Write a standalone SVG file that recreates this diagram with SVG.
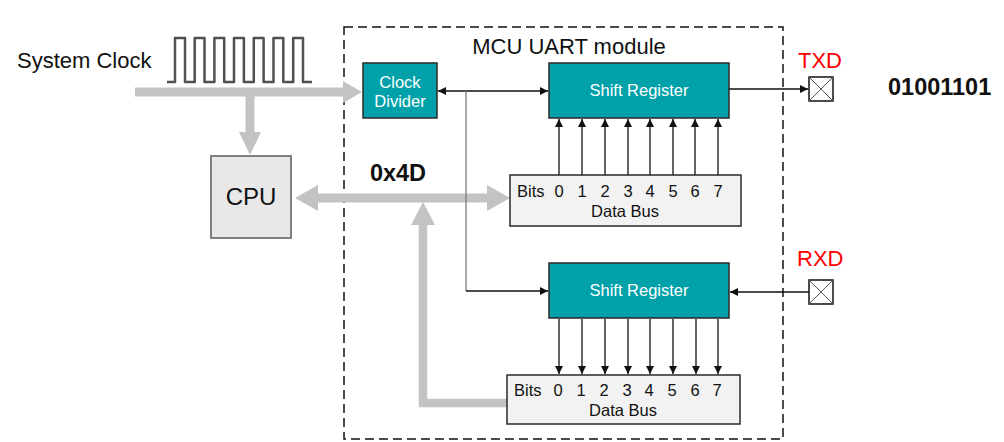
<svg xmlns="http://www.w3.org/2000/svg" width="1004" height="442" viewBox="0 0 1004 442">
<style>
  text { font-family: "Liberation Sans", Arial, sans-serif; }
  .teal { fill: #00a1a9; stroke: #2a2a2a; stroke-width: 1.5; }
  .wt { fill: #ffffff; font-size: 16.5px; text-anchor: middle; }
  .bus { fill: #f2f2f2; stroke: #2a2a2a; stroke-width: 1.5; }
  .bt { fill: #111; font-size: 16.5px; }
  .dg { text-anchor: middle; }
  .thin { stroke: #111; stroke-width: 1.3; fill: none; }
  .gbus { stroke: #c3c3c3; fill: none; }
  .garr { fill: #c3c3c3; }
  .pin { fill: #fff; stroke: #111; stroke-width: 1.5; }
  .red { fill: #ff0000; font-size: 22px; }
</style>
<defs>
  <marker id="ah" viewBox="0 0 10 10" refX="10" refY="5" markerWidth="8" markerHeight="8" markerUnits="userSpaceOnUse" orient="auto-start-reverse">
    <path d="M0,0 L10,5 L0,10 z" fill="#111"/>
  </marker>
</defs>
<rect width="1004" height="442" fill="#ffffff"/>

<g id="uart-module">
  <rect x="344" y="27" width="439" height="412" fill="none" stroke="#111" stroke-width="1.5" stroke-dasharray="9,5"/>
  <text x="569" y="54" font-size="22" text-anchor="middle" fill="#111">MCU UART module</text>
</g>

<g id="system-clock">
  <text x="17" y="68" font-size="22" fill="#111">System Clock</text>
  <polyline fill="none" stroke="#505050" stroke-width="2.5" stroke-linejoin="round" points="167,82 175,82 175,38 185,38 185,82 194.7,82 194.7,38 204.5,38 204.5,82 214.4,82 214.4,38 224.2,38 224.2,82 234,82 234,38 243.9,38 243.9,82 253.8,82 253.8,38 263.6,38 263.6,82 273.5,82 273.5,38 283.3,38 283.3,82 293.2,82 293.2,38 303,38 303,82 312,82"/>
</g>

<g id="connectors">
  <!-- clock bus -->
  <line class="gbus" x1="135" y1="92" x2="344" y2="92" stroke-width="9"/>
  <polygon class="garr" points="343,81 362,92 343,103"/>
  <line class="gbus" x1="250" y1="92" x2="250" y2="133" stroke-width="9"/>
  <polygon class="garr" points="239,132 261,132 250,155"/>
  <!-- CPU <-> data bus -->
  <line class="gbus" x1="317" y1="198" x2="488" y2="198" stroke-width="9"/>
  <polygon class="garr" points="318,185 295,198 318,211"/>
  <polygon class="garr" points="487,185 510,198 487,211"/>
  <!-- RX data bus up -->
  <polyline class="gbus" points="507,403 423,403 423,224" stroke-width="8.5"/>
  <polygon class="garr" points="411,225 423,202 435,225"/>
  <!-- clock divider connections -->
  <line class="thin" x1="438" y1="91" x2="548" y2="91" marker-start="url(#ah)" marker-end="url(#ah)"/>
  <line x1="466" y1="91" x2="466" y2="291" stroke="#7a7a7a" stroke-width="1.3"/>
  <line class="thin" x1="466" y1="291" x2="548" y2="291" marker-end="url(#ah)"/>
  <!-- TX / RX -->
  <line class="thin" x1="729" y1="89" x2="808" y2="89" marker-end="url(#ah)"/>
  <line class="thin" x1="809" y1="292" x2="730" y2="292" marker-end="url(#ah)"/>
  <!-- top bits up -->
  <g class="thin" marker-end="url(#ah)">
    <line x1="559" y1="175" x2="559" y2="119"/>
    <line x1="582" y1="175" x2="582" y2="119"/>
    <line x1="605" y1="175" x2="605" y2="119"/>
    <line x1="628" y1="175" x2="628" y2="119"/>
    <line x1="650" y1="175" x2="650" y2="119"/>
    <line x1="673" y1="175" x2="673" y2="119"/>
    <line x1="695" y1="175" x2="695" y2="119"/>
    <line x1="718" y1="175" x2="718" y2="119"/>
  </g>
  <!-- bottom bits down -->
  <g class="thin" marker-end="url(#ah)">
    <line x1="559" y1="319" x2="559" y2="374"/>
    <line x1="582" y1="319" x2="582" y2="374"/>
    <line x1="605" y1="319" x2="605" y2="374"/>
    <line x1="628" y1="319" x2="628" y2="374"/>
    <line x1="650" y1="319" x2="650" y2="374"/>
    <line x1="673" y1="319" x2="673" y2="374"/>
    <line x1="696" y1="319" x2="696" y2="374"/>
    <line x1="718" y1="319" x2="718" y2="374"/>
  </g>
</g>

<g id="cpu">
  <rect x="211" y="156" width="80" height="82" fill="#e8e8e8" stroke="#808080" stroke-width="2"/>
  <text x="251" y="205" font-size="24" text-anchor="middle" fill="#111">CPU</text>
</g>

<g id="label-0x4D">
  <text x="398" y="181" font-size="23.5" font-weight="bold" text-anchor="middle" fill="#111">0x4D</text>
</g>

<g id="clock-divider">
  <rect class="teal" x="363" y="63" width="74" height="55"/>
  <text class="wt" x="400" y="88">Clock</text>
  <text class="wt" x="400" y="107">Divider</text>
</g>

<g id="tx-shift-register">
  <rect class="teal" x="549" y="63" width="180" height="55"/>
  <text class="wt" x="639" y="96">Shift Register</text>
</g>

<g id="rx-shift-register">
  <rect class="teal" x="549" y="263" width="180" height="55"/>
  <text class="wt" x="639" y="296">Shift Register</text>
</g>

<g id="tx-data-bus">
  <rect class="bus" x="510" y="175" width="231" height="51"/>
  <text class="bt" x="517" y="197">Bits</text>
  <g class="bt dg">
    <text x="559" y="197">0</text><text x="582" y="197">1</text><text x="605" y="197">2</text><text x="628" y="197">3</text>
    <text x="650" y="197">4</text><text x="673" y="197">5</text><text x="695" y="197">6</text><text x="718" y="197">7</text>
  </g>
  <text class="bt dg" x="625" y="217">Data Bus</text>
</g>

<g id="rx-data-bus">
  <rect class="bus" x="507" y="375" width="233" height="49"/>
  <text class="bt" x="514" y="396">Bits</text>
  <g class="bt dg">
    <text x="558" y="396">0</text><text x="581" y="396">1</text><text x="604" y="396">2</text><text x="627" y="396">3</text>
    <text x="649" y="396">4</text><text x="672" y="396">5</text><text x="695" y="396">6</text><text x="717" y="396">7</text>
  </g>
  <text class="bt dg" x="623" y="416">Data Bus</text>
</g>

<g id="txd-pin">
  <text class="red" x="798" y="68">TXD</text>
  <rect class="pin" x="809" y="77" width="24" height="24"/>
  <path d="M809,77 L833,101 M833,77 L809,101" stroke="#555" stroke-width="1"/>
</g>

<g id="rxd-pin">
  <text class="red" x="797" y="266">RXD</text>
  <rect class="pin" x="809" y="280" width="24" height="24"/>
  <path d="M809,280 L833,304 M833,280 L809,304" stroke="#555" stroke-width="1"/>
</g>

<g id="label-bits">
  <text x="888" y="95" font-size="23.5" font-weight="bold" fill="#111">01001101</text>
</g>
</svg>
